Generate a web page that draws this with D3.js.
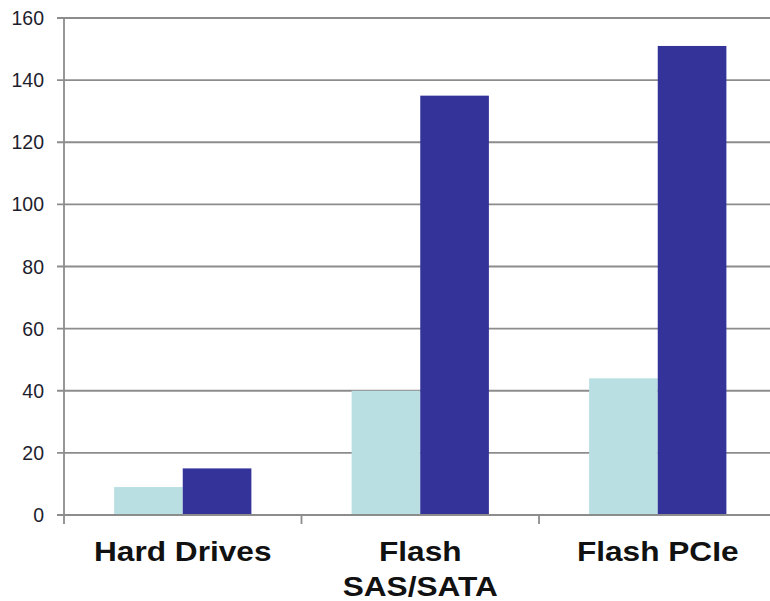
<!DOCTYPE html>
<html><head><meta charset="utf-8">
<script src="https://cdn.jsdelivr.net/npm/d3@7"></script>
<style>body{margin:0;background:#fff}svg{display:block}</style>
</head><body>
<svg id="chart" width="770" height="601"></svg>
<script>
const categories = [["Hard Drives"], ["Flash", "SAS/SATA"], ["Flash PCIe"]];
const seriesA = [9, 40, 44];
const seriesB = [15, 135, 151];
const yTicks = [0, 20, 40, 60, 80, 100, 120, 140, 160];
const colors = ["#b9dfe2", "#333399"];

const svg = d3.select("#chart");
const x0 = 64, x1 = 776.5, yBase = 515, yTop = 18;

const x = d3.scaleBand().domain(d3.range(categories.length)).range([x0, x1]);
const sub = d3.scaleBand().domain([0, 1]).range([0, x.bandwidth()]).paddingOuter(0.73).paddingInner(0);
const y = d3.scaleLinear().domain([0, 160]).range([yBase, yTop]);

// horizontal gridlines + y tick marks
svg.append("g").selectAll("line").data(yTicks).join("line")
  .attr("x1", 57).attr("x2", x1).attr("y1", d => y(d)).attr("y2", d => y(d))
  .attr("stroke", "#8c8c8c").attr("stroke-width", 1.8);

// y tick labels
svg.append("g").selectAll("text").data(yTicks).join("text")
  .attr("x", 44).attr("y", d => y(d)).attr("dy", "0.36em")
  .attr("text-anchor", "end")
  .attr("font-family", "Liberation Sans, Arial, sans-serif")
  .attr("font-size", 19.5).attr("fill", "#1e1e2e")
  .text(d => d);

// bars
const series = [seriesA, seriesB];
series.forEach((vals, s) => {
  svg.append("g").selectAll("rect").data(vals).join("rect")
    .attr("x", (d, i) => x(i) + sub(s))
    .attr("width", sub.bandwidth())
    .attr("y", d => y(d))
    .attr("height", d => yBase - y(d))
    .attr("fill", colors[s]);
});

// y axis line
svg.append("line").attr("x1", x0).attr("x2", x0).attr("y1", yTop).attr("y2", 524)
  .attr("stroke", "#8c8c8c").attr("stroke-width", 1.8);
// x axis line
svg.append("line").attr("x1", 57).attr("x2", x1).attr("y1", yBase).attr("y2", yBase)
  .attr("stroke", "#8c8c8c").attr("stroke-width", 1.8);
// category divider ticks
svg.append("g").selectAll("line").data(d3.range(1, categories.length)).join("line")
  .attr("x1", d => x(d)).attr("x2", d => x(d)).attr("y1", yBase).attr("y2", 524)
  .attr("stroke", "#8c8c8c").attr("stroke-width", 1.8);

// category labels (wide bold face)
const lab = svg.append("g").selectAll("text").data(categories).join("text")
  .attr("transform", (d, i) => `translate(${x(i) + x.bandwidth() / 2},561) scale(1.15,1)`)
  .attr("text-anchor", "middle")
  .attr("font-family", "Liberation Sans, Arial, sans-serif")
  .attr("font-weight", "bold").attr("font-size", 27.5).attr("fill", "#111");
lab.selectAll("tspan").data(d => d).join("tspan")
  .attr("x", 0)
  .attr("dy", (d, i) => i === 0 ? 0 : 35.5)
  .text(d => d);
</script>
</body></html>
